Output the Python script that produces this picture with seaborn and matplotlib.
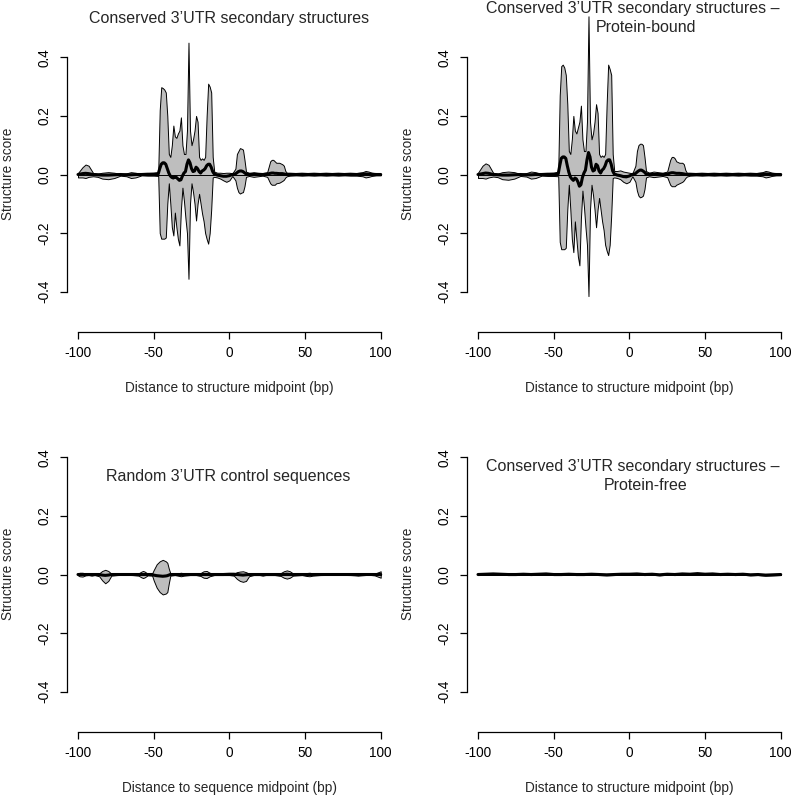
# Structure score profiles around conserved 3'UTR structures (four panels)

import numpy as np
import matplotlib
matplotlib.use("Agg")
import matplotlib.pyplot as plt
import seaborn as sns

# ---------------------------------------------------------------- data
# shared position grid for the two top panels (bp)
pos_top = [-100, -97, -95, -93, -90, -87, -84, -80, -76, -72, -68, -65, -62, -58, -54, -50, -47,
           -46, -45, -44, -43, -42, -41, -40, -39, -38, -37, -36, -35, -34, -33, -32, -31, -30, -29,
           -28, -27, -26, -25, -24, -23, -22, -21, -20, -19, -18, -17, -16, -15, -14, -13, -12, -11, -10,
           -8, -6, -4, -2, 0, 2, 4, 5, 6, 7, 8, 9, 10, 11,
           13, 16, 19, 22, 25, 27, 28, 29, 30, 31, 33, 35, 36, 37, 38,
           40, 44, 48, 52, 56, 60, 64, 68, 72, 76, 80, 84, 88, 90, 92, 94, 97, 100]

# conserved structures (all)
cons_upper = [0.005, 0.025, 0.034, 0.03, 0.005, 0.003, 0.006, 0.008, 0.006, 0.002, 0.004, 0.008, 0.006, 0.002, 0.005, 0.006, 0.008,
              0.22, 0.298, 0.295, 0.29, 0.28, 0.2, 0.07, 0.06, 0.1, 0.167, 0.13, 0.125, 0.14, 0.15, 0.195, 0.1, 0.07, 0.07,
              0.15, 0.45, 0.15, 0.1, 0.12, 0.15, 0.2, 0.18, 0.06, 0.05, 0.055, 0.05, 0.06, 0.2, 0.31, 0.3, 0.28, 0.06, 0.01,
              0.006, 0.006, 0.005, 0.006, 0.006, 0.004, 0.02, 0.07, 0.08, 0.09, 0.088, 0.085, 0.05, 0.01,
              0.005, 0.008, 0.006, 0.005, 0.008, 0.045, 0.05, 0.05, 0.045, 0.04, 0.04, 0.035, 0.03, 0.012, 0.006,
              0.005, 0.004, 0.003, 0.004, 0.003, 0.004, 0.003, 0.004, 0.003, 0.004, 0.004, 0.005, 0.008, 0.012, 0.01, 0.006, 0.004, 0.003]
cons_lower = [-0.01, -0.01, -0.012, -0.008, -0.006, -0.008, -0.014, -0.016, -0.012, -0.004, -0.006, -0.012, -0.01, -0.003, -0.004, -0.004, -0.005,
              -0.2, -0.219, -0.219, -0.219, -0.215, -0.1, -0.03, -0.1, -0.18, -0.208, -0.13, -0.18, -0.22, -0.242, -0.12, -0.045, -0.09, -0.15,
              -0.2, -0.356, -0.1, -0.03, -0.06, -0.1, -0.157, -0.1, -0.066, -0.1, -0.134, -0.16, -0.2, -0.22, -0.236, -0.2, -0.12, -0.01, -0.008,
              -0.01, -0.014, -0.02, -0.025, -0.02, -0.005, -0.02, -0.045, -0.06, -0.065, -0.062, -0.06, -0.04, -0.008,
              -0.005, -0.008, -0.006, -0.004, -0.008, -0.03, -0.035, -0.035, -0.035, -0.03, -0.028, -0.022, -0.018, -0.01, -0.006,
              -0.004, -0.003, -0.004, -0.003, -0.004, -0.003, -0.004, -0.003, -0.004, -0.003, -0.004, -0.004, -0.006, -0.01, -0.008, -0.005, -0.003, -0.003]
cons_mean = [0.0, 0.003, 0.004, 0.003, 0.0, -0.001, -0.002, -0.002, -0.001, 0.0, -0.001, -0.001, 0.0, 0.0, 0.001, 0.001, 0.002,
             0.02, 0.035, 0.04, 0.04, 0.035, 0.02, 0.005, -0.005, -0.01, -0.012, -0.008, -0.01, -0.015, -0.02, -0.018, -0.005, 0.005, 0.01,
             0.035, 0.05, 0.04, 0.02, 0.01, 0.012, 0.025, 0.02, 0.01, 0.005, 0.012, 0.015, 0.02, 0.03, 0.035, 0.035, 0.025, 0.01, 0.002,
             -0.002, -0.004, -0.006, -0.006, -0.004, 0.0, 0.002, 0.006, 0.01, 0.012, 0.012, 0.01, 0.006, 0.002,
             0.001, 0.0, 0.0, 0.0, 0.001, 0.004, 0.005, 0.005, 0.004, 0.004, 0.003, 0.003, 0.002, 0.001, 0.0,
             0.001, 0.0, 0.001, 0.0, 0.001, 0.0, 0.001, 0.0, 0.001, 0.0, 0.001, 0.0, 0.001, 0.002, 0.001, 0.001, 0.0, 0.0]

# conserved structures, protein-bound
bound_upper = [0.006, 0.03, 0.038, 0.033, 0.006, 0.003, 0.008, 0.01, 0.008, 0.002, 0.005, 0.01, 0.008, 0.002, 0.005, 0.006, 0.01,
               0.27, 0.37, 0.375, 0.365, 0.34, 0.24, 0.08, 0.07, 0.12, 0.2, 0.15, 0.14, 0.16, 0.18, 0.235, 0.12, 0.08, 0.08,
               0.18, 0.54, 0.18, 0.12, 0.14, 0.18, 0.24, 0.21, 0.07, 0.06, 0.065, 0.06, 0.07, 0.24, 0.375, 0.36, 0.34, 0.07, 0.012,
               0.012, 0.014, 0.01, 0.008, 0.006, 0.004, 0.03, 0.08, 0.1, 0.105, 0.105, 0.1, 0.06, 0.012,
               0.006, 0.01, 0.008, 0.006, 0.01, 0.05, 0.06, 0.06, 0.055, 0.045, 0.04, 0.04, 0.035, 0.015, 0.006,
               0.005, 0.004, 0.003, 0.004, 0.003, 0.004, 0.003, 0.004, 0.003, 0.004, 0.004, 0.005, 0.008, 0.012, 0.01, 0.006, 0.004, 0.003]
bound_lower = [-0.012, -0.012, -0.014, -0.01, -0.007, -0.009, -0.016, -0.018, -0.014, -0.005, -0.007, -0.014, -0.012, -0.004, -0.005, -0.005, -0.006,
               -0.23, -0.255, -0.255, -0.255, -0.25, -0.12, -0.035, -0.12, -0.22, -0.265, -0.16, -0.22, -0.28, -0.31, -0.15, -0.055, -0.11, -0.18,
               -0.24, -0.415, -0.12, -0.035, -0.07, -0.12, -0.18, -0.12, -0.08, -0.12, -0.16, -0.19, -0.24, -0.26, -0.275, -0.24, -0.14, -0.012, -0.01,
               -0.012, -0.016, -0.025, -0.03, -0.025, -0.006, -0.025, -0.055, -0.072, -0.078, -0.076, -0.072, -0.05, -0.01,
               -0.006, -0.009, -0.007, -0.005, -0.009, -0.035, -0.04, -0.04, -0.04, -0.035, -0.03, -0.025, -0.02, -0.012, -0.007,
               -0.004, -0.003, -0.004, -0.003, -0.004, -0.003, -0.004, -0.003, -0.004, -0.003, -0.004, -0.004, -0.006, -0.01, -0.008, -0.005, -0.003, -0.003]
bound_mean = [0.0, 0.003, 0.005, 0.004, 0.0, -0.001, -0.002, -0.002, -0.001, 0.0, -0.001, -0.001, 0.0, 0.0, 0.001, 0.001, 0.002,
              0.03, 0.055, 0.06, 0.06, 0.055, 0.03, 0.008, -0.008, -0.015, -0.02, -0.012, -0.015, -0.025, -0.04, -0.035, -0.01, 0.005, 0.015,
              0.05, 0.075, 0.06, 0.025, 0.012, 0.015, 0.035, 0.03, 0.012, 0.005, 0.015, 0.02, 0.03, 0.045, 0.05, 0.05, 0.035, 0.012, 0.002,
              -0.002, -0.004, -0.007, -0.008, -0.005, 0.0, 0.003, 0.008, 0.012, 0.015, 0.015, 0.012, 0.008, 0.002,
              0.001, 0.0, 0.0, 0.0, 0.001, 0.005, 0.006, 0.006, 0.005, 0.004, 0.004, 0.003, 0.002, 0.001, 0.0,
              0.001, 0.0, 0.001, 0.0, 0.001, 0.0, 0.001, 0.0, 0.001, 0.0, 0.001, 0.0, 0.001, 0.002, 0.001, 0.001, 0.0, 0.0]

# random 3'UTR control sequences
pos_rand = [-100, -99, -97, -95, -93, -91, -89, -86, -84, -82, -80, -78, -74, -70, -64, -60, -58, -57, -56, -54,
            -51, -50, -48, -46, -44, -42, -41, -40, -39, -36, -34, -32, -30, -26, -22, -19, -17, -15, -13, -10,
            -4, 0, 3, 5, 7, 9, 11, 13, 16, 20, 22, 24, 30, 34, 36, 38, 40, 42, 48, 51,
            53, 55, 60, 70, 80, 83, 85, 87, 92, 96, 98, 100]
rand_upper = [0.003, 0.006, 0.006, 0.003, 0.002, 0.004, 0.002, 0.004, 0.012, 0.016, 0.012, 0.003, 0.002, 0.001, 0.002, 0.004, 0.01, 0.012, 0.01, 0.003,
              0.004, 0.015, 0.035, 0.045, 0.05, 0.045, 0.04, 0.02, 0.004, 0.002, 0.004, 0.006, 0.004, 0.002, 0.002, 0.005, 0.011, 0.012, 0.006, 0.002,
              0.002, 0.002, 0.003, 0.008, 0.01, 0.011, 0.008, 0.003, 0.002, 0.002, 0.004, 0.002, 0.002, 0.005, 0.011, 0.014, 0.011, 0.004, 0.002, 0.005,
              0.006, 0.004, 0.002, 0.001, 0.002, 0.003, 0.004, 0.003, 0.001, 0.003, 0.007, 0.011]
rand_lower = [-0.003, -0.006, -0.007, -0.003, -0.002, -0.004, -0.002, -0.006, -0.02, -0.03, -0.022, -0.004, -0.002, -0.001, -0.002, -0.004, -0.01, -0.012, -0.01, -0.003,
              -0.004, -0.02, -0.045, -0.06, -0.068, -0.065, -0.06, -0.03, -0.004, -0.002, -0.004, -0.006, -0.004, -0.002, -0.002, -0.005, -0.011, -0.012, -0.006, -0.002,
              -0.002, -0.002, -0.004, -0.015, -0.022, -0.025, -0.022, -0.006, -0.002, -0.002, -0.004, -0.002, -0.002, -0.005, -0.011, -0.014, -0.011, -0.004, -0.002, -0.005,
              -0.006, -0.004, -0.002, -0.001, -0.002, -0.003, -0.004, -0.003, -0.001, -0.003, -0.007, -0.011]
rand_mean = [0.0, 0.0, 0.0, 0.0, 0.0, 0.0, 0.0, 0.0, -0.002, -0.003, -0.002, 0.0, 0.0, 0.0, 0.0, 0.0, 0.0, 0.0, 0.0, 0.0,
             0.0, -0.002, -0.004, -0.005, -0.006, -0.005, -0.004, -0.002, 0.0, 0.0, 0.0, 0.0, 0.0, 0.0, 0.0, 0.0, 0.0, 0.0, 0.0, 0.0,
             0.0, 0.001, 0.001, 0.0, -0.001, -0.002, -0.001, 0.0, 0.0, 0.0, 0.0, 0.0, 0.0, 0.0, 0.0, 0.001, 0.0, 0.0, 0.0, 0.0,
             0.0, 0.0, 0.0, 0.0, 0.0, 0.0, 0.0, 0.0, 0.0, 0.0, 0.0, 0.0]

# conserved structures, protein-free
pos_free = [-100, -95, -90, -85, -80, -75, -70, -65, -60, -55, -50, -45, -40, -35, -30, -25, -20, -15, -10, -5,
            0, 5, 10, 15, 20, 25, 30, 35, 40, 45, 50, 55, 60, 65, 70, 75, 80, 85, 90, 95, 100]
free_mean = [0.0, 0.001, 0.002, 0.001, 0.0, 0.0, 0.001, 0.0, 0.001, 0.002, 0.0, 0.0, 0.001, 0.0, 0.0, 0.001, 0.0, -0.001, 0.0, 0.001,
             0.001, 0.002, 0.0, 0.001, -0.001, 0.001, 0.0, 0.002, 0.001, 0.003, 0.001, 0.002, 0.0, 0.001, 0.0, 0.001, -0.001, 0.0, -0.002, -0.001, 0.0]
free_upper = [0.002, 0.003, 0.004, 0.003, 0.002, 0.002, 0.003, 0.002, 0.003, 0.004, 0.002, 0.002, 0.003, 0.002, 0.002, 0.003, 0.002, 0.001, 0.002, 0.003,
              0.003, 0.004, 0.002, 0.003, 0.001, 0.003, 0.002, 0.004, 0.003, 0.005, 0.003, 0.004, 0.002, 0.003, 0.002, 0.003, 0.001, 0.002, 0.0, 0.001, 0.002]
free_lower = [-0.002, -0.001, 0.0, -0.001, -0.002, -0.002, -0.001, -0.002, -0.001, 0.0, -0.002, -0.002, -0.001, -0.002, -0.002, -0.001, -0.002, -0.003, -0.002, -0.001,
              -0.001, 0.0, -0.002, -0.001, -0.003, -0.001, -0.002, 0.0, -0.001, 0.001, -0.001, 0.0, -0.002, -0.001, -0.002, -0.001, -0.003, -0.002, -0.004, -0.003, -0.002]

x_ticks = [-100, -50, 0, 50, 100]
x_ticklabels = ["-100", "-50", "0", "50", "100"]
y_ticks = [-0.4, -0.2, 0.0, 0.2, 0.4]
y_ticklabels = ["-0.4", "-0.2", "0.0", "0.2", "0.4"]

# ---------------------------------------------------------------- style
sns.set_style("ticks")
plt.rcParams["font.family"] = ["Liberation Sans", "DejaVu Sans"]

W, H = 793, 799
FILL = "#bebebe"
FS_LAB = 9.8
FS_TITLE = 11.5

fig = plt.figure(figsize=(W / 100, H / 100), dpi=100)


def px(x, y):
    return x / W, 1 - y / H


def make_axes(x0, ytop):
    # -100..100 spans 302.7 px, -0.4..0.4 spans 234.4 px
    left, top = px(x0, ytop)
    ax = fig.add_axes([left, top - 234.4 / H, 302.7 / W, 234.4 / H])
    ax.set_xlim(-100, 100)
    ax.set_ylim(-0.4, 0.4)
    ax.patch.set_alpha(0)
    for s in ["top", "right"]:
        ax.spines[s].set_visible(False)
    ax.spines["left"].set_position(("outward", 8))
    ax.spines["bottom"].set_position(("outward", 28.8))
    ax.spines["left"].set_bounds(-0.4, 0.4)
    ax.spines["bottom"].set_bounds(-100, 100)
    for s in ["left", "bottom"]:
        ax.spines[s].set_linewidth(0.9)
        ax.spines[s].set_color("black")
    ax.set_xticks(x_ticks)
    ax.set_xticklabels(x_ticklabels)
    ax.set_yticks(y_ticks)
    ax.set_yticklabels(y_ticklabels, rotation=90, va="center")
    ax.tick_params(length=5, width=0.9, colors="black", labelsize=FS_LAB)
    ax.tick_params(axis="x", pad=5)
    ax.tick_params(axis="y", pad=6)
    return ax


def draw_profile(ax, x, upper, lower, mean):
    band = ax.fill_between(x, lower, upper, facecolor=FILL, edgecolor="black", linewidth=0.7)
    band.set_clip_on(False)
    ax.axhline(0, color="black", linewidth=0.7)
    sns.lineplot(x=x, y=mean, ax=ax, color="black", linewidth=2.2, errorbar=None)
    for ln in ax.lines:
        ln.set_clip_on(False)
    ax.set_xlabel("")
    ax.set_ylabel("")


panels = [
    (78, 57.3, pos_top, cons_upper, cons_lower, cons_mean, "Distance to structure midpoint (bp)"),
    (478, 57.3, pos_top, bound_upper, bound_lower, bound_mean, "Distance to structure midpoint (bp)"),
    (78, 457.3, pos_rand, rand_upper, rand_lower, rand_mean, "Distance to sequence midpoint (bp)"),
    (478, 457.3, pos_free, free_upper, free_lower, free_mean, "Distance to structure midpoint (bp)"),
]

for x0, ytop, x, up, lo, mn, xlab in panels:
    ax = make_axes(x0, ytop)
    draw_profile(ax, x, up, lo, mn)
    fig.text(*px(x0 - 70, ytop + 117), "Structure score", rotation=90,
             ha="center", va="center", fontsize=FS_LAB)
    fig.text(*px(x0 + 151, ytop + 331), xlab, ha="center", va="center", fontsize=FS_LAB)

# panel titles
fig.text(*px(229, 18), "Conserved 3\u2019UTR secondary structures", ha="center", va="center", fontsize=FS_TITLE)
fig.text(*px(633, 9), "Conserved 3\u2019UTR secondary structures \u2013", ha="center", va="center", fontsize=FS_TITLE)
fig.text(*px(646, 28), "Protein-bound", ha="center", va="center", fontsize=FS_TITLE)
fig.text(*px(228, 476), "Random 3\u2019UTR control sequences", ha="center", va="center", fontsize=FS_TITLE)
fig.text(*px(633, 467), "Conserved 3\u2019UTR secondary structures \u2013", ha="center", va="center", fontsize=FS_TITLE)
fig.text(*px(646, 486), "Protein-free", ha="center", va="center", fontsize=FS_TITLE)

fig.savefig("out.png", dpi=100)
